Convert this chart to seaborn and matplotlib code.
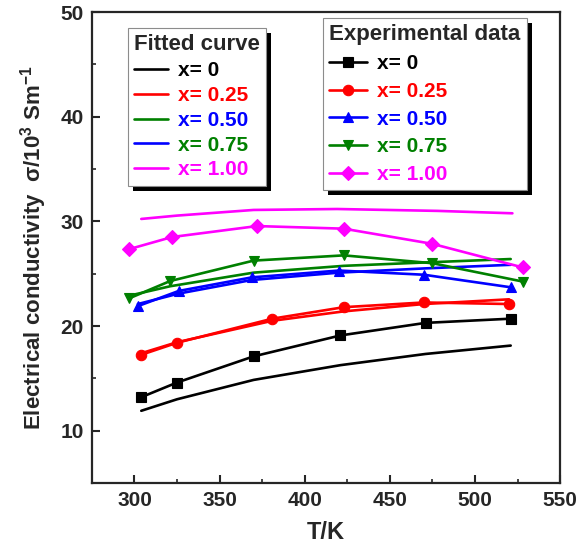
import matplotlib
matplotlib.use("Agg")
import matplotlib.pyplot as plt
from matplotlib.patches import Rectangle
from matplotlib.ticker import MultipleLocator
import seaborn as sns

# x (composition) labels
labels = ["x= 0", "x= 0.25", "x= 0.50", "x= 0.75", "x= 1.00"]

# experimental data, T/K and sigma/10^3 S m^-1
T_exp_0 = [304, 325, 370, 421, 471, 521]
s_exp_0 = [13.2, 14.6, 17.1, 19.1, 20.3, 20.7]
T_exp_25 = [304, 325, 381, 423, 470, 520]
s_exp_25 = [17.25, 18.4, 20.7, 21.8, 22.25, 22.1]
T_exp_50 = [302, 326, 369, 420, 470, 521]
s_exp_50 = [21.9, 23.35, 24.65, 25.3, 24.9, 23.7]
T_exp_75 = [297, 321, 370, 423, 475, 528]
s_exp_75 = [22.65, 24.3, 26.25, 26.75, 26.0, 24.25]
T_exp_100 = [297, 322, 372, 423, 475, 528]
s_exp_100 = [27.35, 28.5, 29.55, 29.3, 27.85, 25.6]

# fitted curves
T_fit_0 = [304, 325, 370, 421, 471, 521]
s_fit_0 = [11.9, 13.0, 14.85, 16.26, 17.33, 18.13]
T_fit_25 = [304, 325, 381, 423, 470, 520]
s_fit_25 = [17.4, 18.45, 20.5, 21.4, 22.1, 22.55]
T_fit_50 = [297, 321, 370, 423, 475, 521]
s_fit_50 = [22.9, 23.8, 25.1, 25.75, 26.1, 26.4]
T_fit_75 = [302, 326, 369, 420, 470, 521]
s_fit_75 = [22.1, 23.1, 24.4, 25.1, 25.5, 25.85]
T_fit_100 = [304, 325, 370, 419, 478, 522]
s_fit_100 = [30.23, 30.55, 31.09, 31.18, 31.0, 30.77]

exp_T = [T_exp_0, T_exp_25, T_exp_50, T_exp_75, T_exp_100]
exp_s = [s_exp_0, s_exp_25, s_exp_50, s_exp_75, s_exp_100]
fit_T = [T_fit_0, T_fit_25, T_fit_50, T_fit_75, T_fit_100]
fit_s = [s_fit_0, s_fit_25, s_fit_50, s_fit_75, s_fit_100]

exp_colors = ["black", "#ff0000", "#0000ff", "#008000", "#ff00ff"]
exp_markers = ["s", "o", "^", "v", "D"]
fit_colors = ["black", "#ff0000", "#008000", "#0000ff", "#ff00ff"]
fit_text_colors = ["black", "#ff0000", "#0000ff", "#008000", "#ff00ff"]

sns.set_style("ticks")
plt.rcParams["font.family"] = ["Liberation Sans", "DejaVu Sans"]
plt.rcParams["font.weight"] = "bold"
plt.rcParams["mathtext.fontset"] = "custom"
plt.rcParams["mathtext.rm"] = "Liberation Sans:bold"
plt.rcParams["mathtext.bf"] = "Liberation Sans:bold"
plt.rcParams["mathtext.default"] = "bf"

fig = plt.figure(figsize=(5.78, 5.47), dpi=100)
ax = fig.add_axes([0.159, 0.117, 0.81, 0.861])

fit_lines = []
for i in range(5):
    sns.lineplot(x=fit_T[i], y=fit_s[i], color=fit_colors[i], lw=1.9, ax=ax)
    fit_lines.append(ax.lines[-1])

exp_lines = []
for i in range(5):
    sns.lineplot(x=exp_T[i], y=exp_s[i], color=exp_colors[i], lw=1.9,
                 marker=exp_markers[i], markersize=7.5 if exp_markers[i] != "D" else 7,
                 markeredgecolor=exp_colors[i], markeredgewidth=0.8, ax=ax)
    exp_lines.append(ax.lines[-1])

ax.set_xlim(275, 550)
ax.set_ylim(5, 50)
ax.xaxis.set_major_locator(MultipleLocator(50))
ax.xaxis.set_minor_locator(MultipleLocator(25))
ax.yaxis.set_major_locator(MultipleLocator(10))
ax.yaxis.set_minor_locator(MultipleLocator(5))
ax.tick_params(which="major", direction="in", length=6, width=1.5, labelsize=15, pad=6)
ax.tick_params(which="minor", direction="in", length=3, width=1.2)
for sp in ax.spines.values():
    sp.set_linewidth(1.6)
for t in ax.get_xticklabels() + ax.get_yticklabels():
    t.set_fontweight("bold")

ax.set_xlabel("T/K", fontsize=17, fontweight="bold", labelpad=8)
ax.set_ylabel("Electrical conductivity  σ/10$^{3}$ Sm$^{-1}$", fontsize=16,
              fontweight="bold", labelpad=8)

common = dict(loc="upper left", borderaxespad=0, fancybox=False, framealpha=1,
              edgecolor="0.55", prop={"size": 15, "weight": "bold"},
              title_fontproperties={"size": 16, "weight": "bold"},
              borderpad=0.3, handletextpad=0.5)
leg1 = ax.legend(fit_lines, labels, bbox_to_anchor=(0.077, 0.966),
                 title="Fitted curve", handlelength=1.6, labelspacing=0.28, **common)
for txt, c in zip(leg1.get_texts(), fit_text_colors):
    txt.set_color(c)
leg1.get_frame().set_linewidth(0.8)
ax.add_artist(leg1)

leg2 = ax.legend(exp_lines, labels, bbox_to_anchor=(0.494, 0.987),
                 title="Experimental data", handlelength=1.8, labelspacing=0.42, **common)
for txt, c in zip(leg2.get_texts(), exp_colors):
    txt.set_color(c)
leg2.get_frame().set_linewidth(0.8)
for lg in (leg1, leg2):
    lg._legend_box.align = "left"
    lg.set_zorder(6)

# black drop shadows behind legend boxes
fig.canvas.draw()
inv = ax.transAxes.inverted()
for lg in (leg1, leg2):
    bb = lg.get_frame().get_window_extent()
    (x0, y0), (x1, y1) = inv.transform([(bb.x0 + 5, bb.y0 - 5), (bb.x1 + 5, bb.y1 - 5)])
    shadow = Rectangle((x0, y0), x1 - x0, y1 - y0, facecolor="black", edgecolor="none",
                       transform=ax.transAxes, zorder=5.5, clip_on=False)
    ax.add_patch(shadow)

fig.savefig("out.png", dpi=100)
